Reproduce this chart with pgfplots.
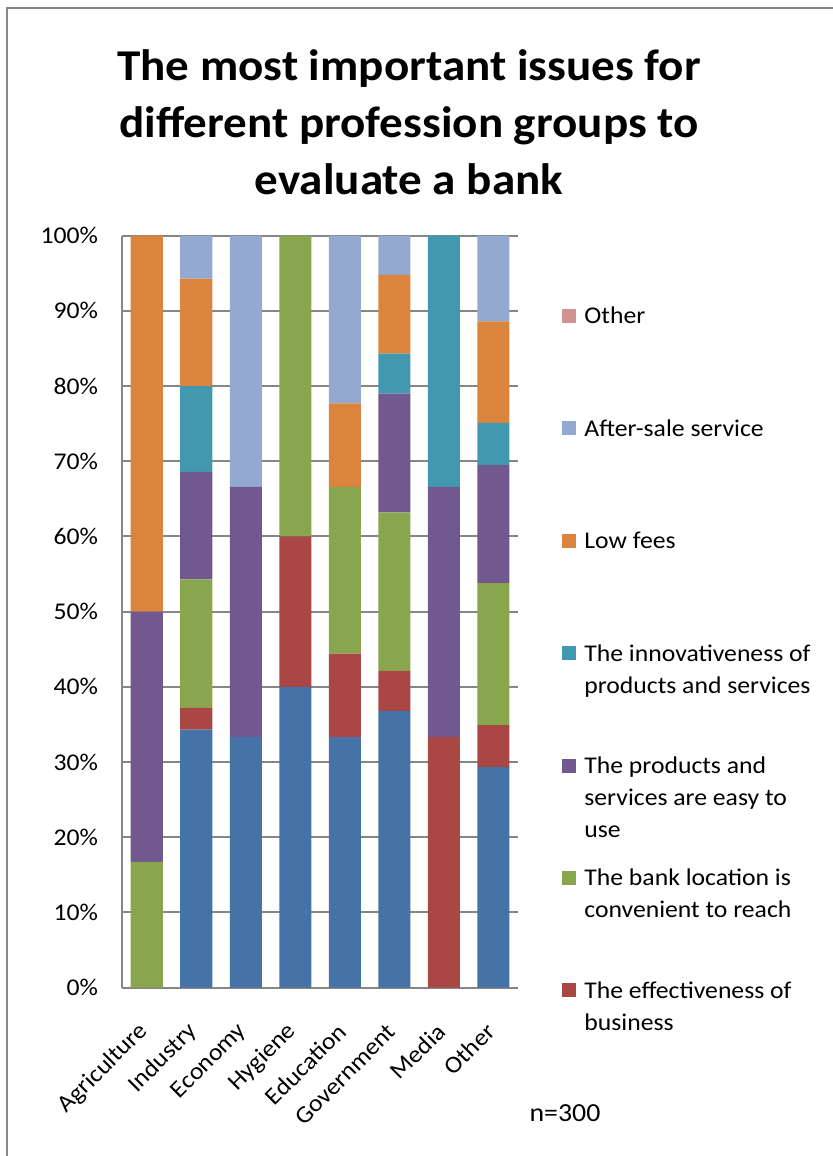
\documentclass[border=0pt]{standalone}
\usepackage{fontspec}
\setmainfont{Carlito}[FakeStretch=1.07]
\usepackage{pgfplots}
\pgfplotsset{compat=1.18}
\definecolor{cBlue}{RGB}{69,114,167}
\definecolor{cRed}{RGB}{170,70,67}
\definecolor{cGreen}{RGB}{137,165,78}
\definecolor{cPurple}{RGB}{113,88,143}
\definecolor{cTeal}{RGB}{65,152,175}
\definecolor{cOrange}{RGB}{219,132,61}
\definecolor{cLBlue}{RGB}{147,169,207}
\definecolor{cPink}{RGB}{209,147,146}
\definecolor{cGrid}{RGB}{134,134,134}
\newcommand\leg[1]{\rule[-45pt]{0pt}{16.25pt}\begin{tabular}[t]{@{}l@{}}#1\end{tabular}}
\begin{document}
\begin{tikzpicture}
\useasboundingbox (-61pt,-84.25pt) rectangle (355pt,493.75pt);
\draw[cGrid, line width=1pt] (-57.5pt,-90pt) -- (-57.5pt,489.75pt) -- (360pt,489.75pt);
\begin{axis}[
  scale only axis, width=198pt, height=375.9pt,
  ybar stacked, bar width=16pt,
  xmin=-0.5, xmax=7.5, ymin=0, ymax=100,
  xtick={0,...,7},
  xticklabels={Agriculture,Industry,Economy,Hygiene,Education,Government,Media,Other},
  ytick={0,10,...,100},
  yticklabels={0\%,10\%,20\%,30\%,40\%,50\%,60\%,70\%,80\%,90\%,100\%},
  axis x line*=bottom, axis y line*=left,
  axis line style={cGrid, line width=1pt, -},
  ymajorgrids, grid style={cGrid, line width=1pt},
  major tick length=0pt,
  tick label style={font=\fontsize{12}{14}\selectfont},
  yticklabel style={anchor=east, inner sep=0pt, xshift=-11.8pt},
  xticklabel style={yshift=-20pt, xshift=-1.2pt, rotate=45, anchor=east, inner sep=0pt},
  legend cell align=left,
  legend style={at={(axis description cs:1.1104,0.9129)}, anchor=north west,
    draw=none, fill=none, inner sep=0pt, row sep=0pt, column sep=4.15pt,
    nodes={inner sep=0pt, text depth=}, cells={anchor=base west},
    font=\fontsize{12}{16}\selectfont},
  reverse legend,
  legend image code/.code={\fill[#1] (0pt,0.5pt) rectangle (7pt,7.5pt);},
]
\addplot[fill=cBlue, draw=none, forget plot] coordinates {(0,0) (1,34.3) (2,33.3) (3,40) (4,33.3) (5,36.8) (6,0) (7,29.3)};
\addplot[fill=cRed, draw=none] coordinates {(0,0) (1,2.9) (2,0) (3,20) (4,11.1) (5,5.3) (6,33.3) (7,5.6)};
\addlegendentry{\leg{The effectiveness of\\business}}
\addplot[fill=cGreen, draw=none] coordinates {(0,16.7) (1,17.1) (2,0) (3,40) (4,22.2) (5,21.1) (6,0) (7,18.9)};
\addlegendentry{\leg{The bank location is\\convenient to reach}}
\addplot[fill=cPurple, draw=none] coordinates {(0,33.3) (1,14.3) (2,33.3) (3,0) (4,0) (5,15.8) (6,33.3) (7,15.7)};
\addlegendentry{\leg{The products and\\services are easy to\\use}}
\addplot[fill=cTeal, draw=none] coordinates {(0,0) (1,11.4) (2,0) (3,0) (4,0) (5,5.3) (6,33.4) (7,5.6)};
\addlegendentry{\leg{The innovativeness of\\products and services}}
\addplot[fill=cOrange, draw=none] coordinates {(0,50) (1,14.3) (2,0) (3,0) (4,11.1) (5,10.5) (6,0) (7,13.5)};
\addlegendentry{\leg{Low fees}}
\addplot[fill=cLBlue, draw=none] coordinates {(0,0) (1,5.7) (2,33.4) (3,0) (4,22.3) (5,5.2) (6,0) (7,11.4)};
\addlegendentry{\leg{After-sale service}}
\addplot[fill=cPink, draw=none] coordinates {(0,0) (1,0) (2,0) (3,0) (4,0) (5,0) (6,0) (7,0)};
\addlegendentry{\leg{Other}}
\end{axis}
\node[anchor=base, inner sep=0pt, font=\fontsize{22}{28}\selectfont\bfseries] at (143.5pt,453.4pt) {The most important issues for};
\node[anchor=base, inner sep=0pt, font=\fontsize{22}{28}\selectfont\bfseries] at (143.5pt,424.9pt) {different profession groups to};
\node[anchor=base, inner sep=0pt, font=\fontsize{22}{28}\selectfont\bfseries] at (143.5pt,396.4pt) {evaluate a bank};
\node[anchor=center, inner sep=0pt, font=\fontsize{13}{15}\selectfont] at (221.5pt,-62.75pt) {n=300};
\end{tikzpicture}
\end{document}
